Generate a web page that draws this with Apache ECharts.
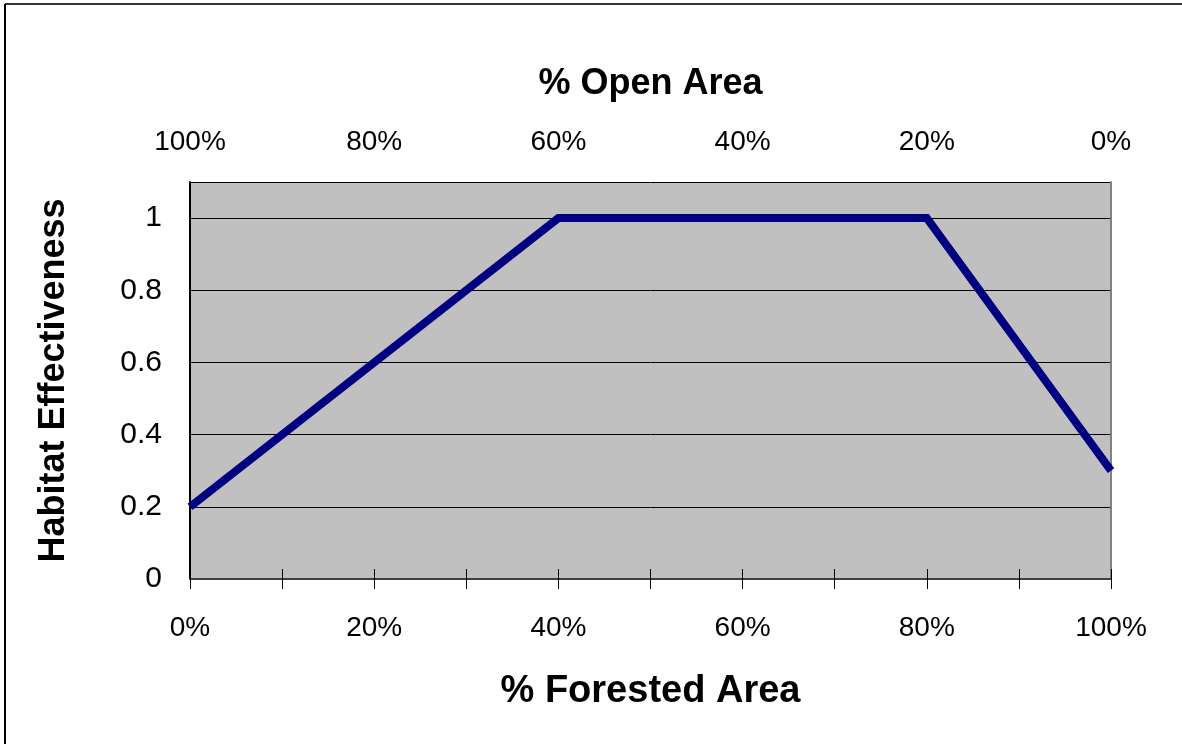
<!DOCTYPE html>
<html>
<head>
<meta charset="utf-8">
<style>
  html, body { margin: 0; padding: 0; background: #ffffff; }
  #chart { width: 1182px; height: 744px; }
</style>
<script src="https://cdn.jsdelivr.net/npm/echarts@6/dist/echarts.min.js"></script>
</head>
<body>
<div id="chart"></div>
<script>
// Habitat effectiveness as a function of forest cover
const forestedPct = [0, 40, 80, 100];
const effectiveness = [0.2, 1.0, 1.0, 0.3];
const percentTicks = [0, 20, 40, 60, 80, 100];
const effectivenessTicks = [0, 0.2, 0.4, 0.6, 0.8, 1];

const FONT = '"Liberation Sans", Arial, sans-serif';

const chart = echarts.init(document.getElementById('chart'), null, { renderer: 'canvas' });

const pctLabel = v => (percentTicks.indexOf(v) >= 0 ? v + '%' : '');

chart.setOption({
  animation: false,
  backgroundColor: '#ffffff',
  grid: {
    left: 190, right: 71, top: 182, bottom: 165,
    show: true,
    backgroundColor: '#c0c0c0',
    borderWidth: 0
  },
  xAxis: [
    {
      type: 'value', position: 'bottom',
      min: 0, max: 100, interval: 10,
      name: '% Forested Area', nameLocation: 'middle', nameGap: 94,
      nameTextStyle: { fontFamily: FONT, fontWeight: 'bold', fontSize: 38, color: '#000' },
      axisLine: { show: true, lineStyle: { color: '#404040', width: 2 } },
      axisTick: { show: true, inside: false, length: 10, lineStyle: { color: '#000', width: 1 } },
      axisLabel: { formatter: pctLabel, margin: 35, fontFamily: FONT, fontSize: 28, color: '#000', showMinLabel: true, showMaxLabel: true },
      splitLine: { show: false }
    },
    {
      type: 'value', position: 'top', inverse: true,
      min: 0, max: 100, interval: 10,
      name: '% Open Area', nameLocation: 'middle', nameGap: 80,
      nameTextStyle: { fontFamily: FONT, fontWeight: 'bold', fontSize: 36, color: '#000' },
      axisLine: { show: true, lineStyle: { color: '#404040', width: 2 } },
      axisTick: { show: true, inside: false, length: 10, lineStyle: { color: '#000', width: 1 } },
      axisLabel: { formatter: pctLabel, margin: 26, fontFamily: FONT, fontSize: 28, color: '#000', showMinLabel: true, showMaxLabel: true },
      splitLine: { show: false }
    }
  ],
  yAxis: [
    {
      type: 'value', position: 'left',
      min: 0, max: 1.1, interval: 0.2,
      name: 'Habitat Effectiveness', nameLocation: 'middle', nameGap: 118, nameRotate: 90,
      nameTextStyle: { fontFamily: FONT, fontWeight: 'bold', fontSize: 36, color: '#000' },
      axisLine: { show: true, lineStyle: { color: '#000', width: 2 } },
      axisTick: { show: false },
      axisLabel: {
        margin: 28, fontFamily: FONT, fontSize: 30, color: '#000',
        showMaxLabel: false,
        formatter: v => (effectivenessTicks.some(t => Math.abs(t - v) < 1e-9) ? String(+v.toFixed(1)) : '')
      },
      splitLine: { show: true, lineStyle: { color: '#000', width: 1 } }
    },
    {
      type: 'value', position: 'right',
      min: 0, max: 1.1,
      axisLine: { show: true, lineStyle: { color: '#808080', width: 2 } },
      axisTick: { show: false }, axisLabel: { show: false }, splitLine: { show: false }
    }
  ],
  series: [
    {
      type: 'line',
      xAxisIndex: 0, yAxisIndex: 0,
      data: forestedPct.map((x, i) => [x, effectiveness[i]]),
      symbol: 'none',
      lineStyle: { color: '#000080', width: 8, cap: 'butt', join: 'miter' },
      clip: false,
      z: 5
    }
  ],
  graphic: [
    { type: 'line', shape: { x1: 5, y1: 4, x2: 1182, y2: 4 }, style: { stroke: '#333333', lineWidth: 2 } },
    { type: 'line', shape: { x1: 5, y1: 4, x2: 5, y2: 744 }, style: { stroke: '#000000', lineWidth: 2 } }
  ]
});
</script>
</body>
</html>
